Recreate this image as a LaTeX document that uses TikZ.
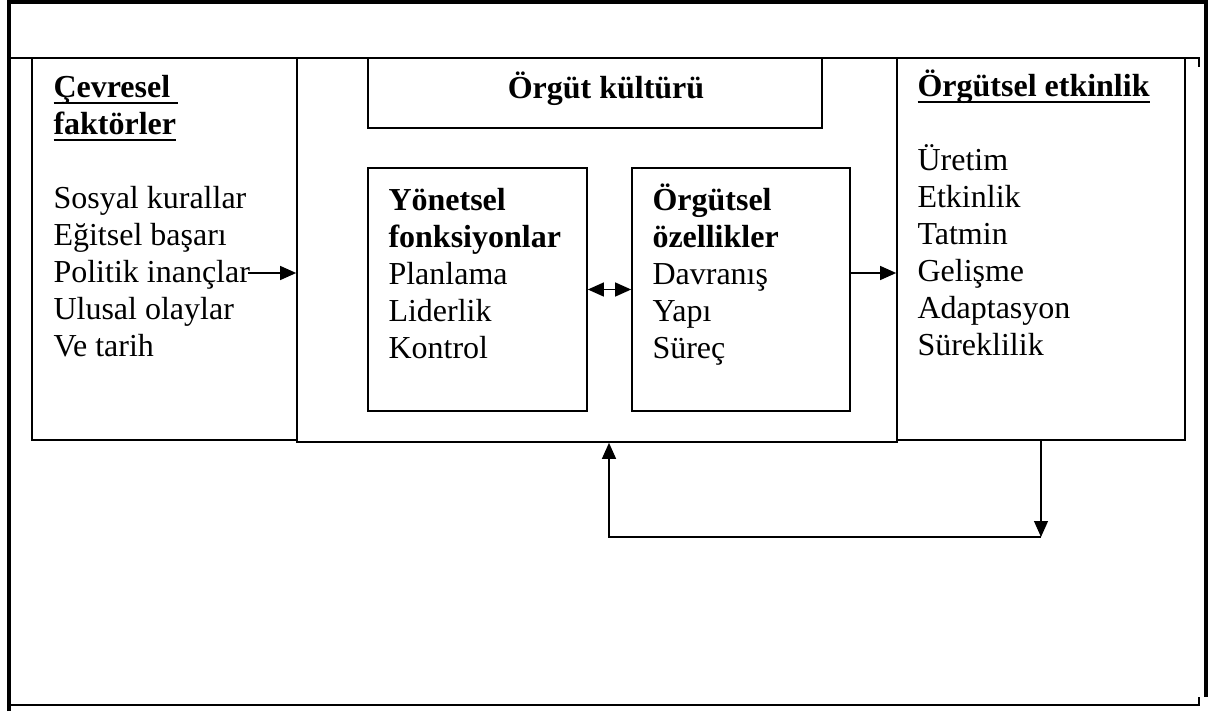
\documentclass[tikz,border=0pt]{standalone}
\usepackage{fontspec}
\setmainfont{Liberation Serif}
\usetikzlibrary{arrows.meta}
\tikzstyle{line} = [draw, line width=0.6pt, -{Triangle[length=6pt,width=5.2pt]}]
\tikzstyle{dline} = [draw, line width=0.6pt, {Triangle[length=6pt,width=5.2pt]}-{Triangle[length=6pt,width=5.2pt]}]
\tikzstyle{block} = [draw, rectangle, line width=0.6pt, inner sep=0pt]
\tikzstyle{txt} = [align=left, inner sep=0pt, anchor=base west]
\newcommand{\alti}[1]{\setbox0\hbox{#1}\rlap{\rule[-2.6pt]{\wd0}{0.9pt}}\box0}

\begin{document}
\begin{tikzpicture}[x=0.375pt, y=-0.375pt, font=\fontsize{12}{13.875}\selectfont]
		\useasboundingbox (0,0) rectangle (1214,711);
		\draw[line width=1.3pt] (9,711) -- (9,2) -- (1206,2) -- (1206,697);
		\draw[line width=0.75pt] (9,58) -- (1199,58) -- (1199,67);
		\draw[line width=1.1pt] (9,705) -- (1199,705) -- (1199,697);
	%--------------------
		\node[block, minimum width=99.375pt, minimum height=143.25pt] (Cevre) at (164.5,249) {};
		\node[block, minimum width=225pt, minimum height=144pt] (Kultur) at (597,250) {};
		\node[block, minimum width=108pt, minimum height=143.25pt] (Etkin) at (1041,249) {};
		\node[block, minimum width=170.25pt, minimum height=26.25pt] (Baslik) at (595,93) {};
		\node[block, minimum width=82.125pt, minimum height=91.125pt] (Yonet) at (477.5,289.5) {};
		\node[block, minimum width=81.75pt, minimum height=91.125pt] (Ozel) at (741,289.5) {};
		\node[txt] (CevreT) at (53,356) {\alti{\textbf{Çevresel }}\\\alti{\textbf{faktörler}}\\[13.875pt]Sosyal kurallar\\Eğitsel başarı\\Politik inançlar\\Ulusal olaylar\\Ve tarih};
		\node[txt] (EtkinT) at (917,355) {\alti{\textbf{Örgütsel etkinlik}}\\[13.875pt]Üretim\\Etkinlik\\Tatmin\\Gelişme\\Adaptasyon\\Süreklilik};
		\node[txt] (YonetT) at (388,358) {\textbf{Yönetsel}\\\textbf{fonksiyonlar}\\Planlama\\Liderlik\\Kontrol};
		\node[txt] (OzelT) at (652,358) {\textbf{Örgütsel}\\\textbf{özellikler}\\Davranış\\Yapı\\Süreç};
		\node[inner sep=0pt, anchor=base] (BaslikT) at (606,98) {\textbf{Örgüt kültürü}};
	%--------------------
		\coordinate (politik) at (248,273);
		\coordinate (donus) at (1041,537);
		\coordinate (geri) at (609,537);
		\draw[line] (politik) -- (politik -| Kultur.west);
		\draw[dline] (Yonet.east) -- (Ozel.west);
		\draw[line] (Ozel.east |- politik) -- (Etkin.west |- politik);
		\draw[line] (Etkin.south) -- (donus);
		\draw[line] (donus) -- (geri) -- (geri |- Kultur.south);
	\end{tikzpicture}
\end{document}
